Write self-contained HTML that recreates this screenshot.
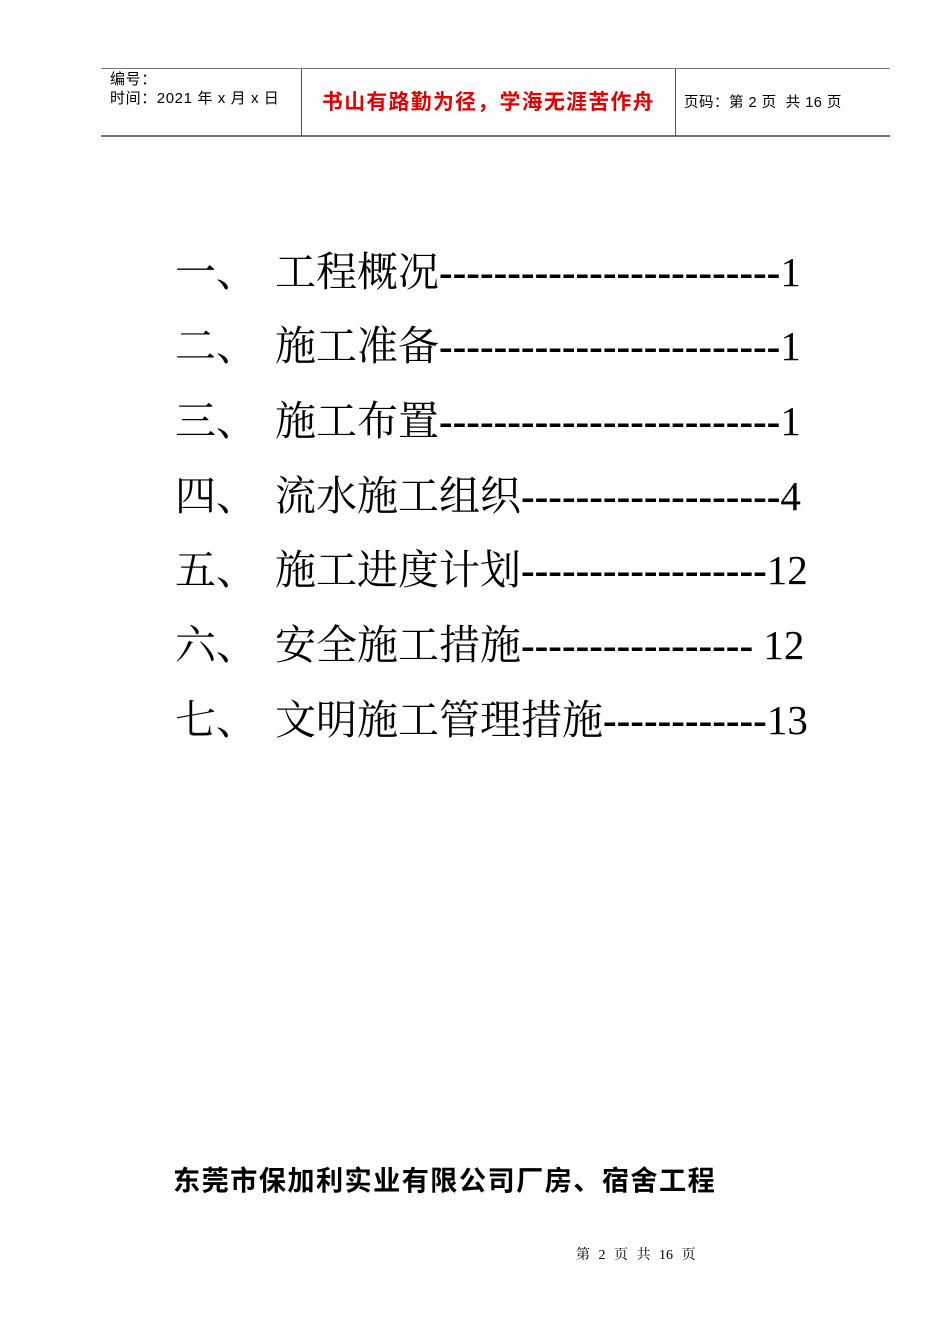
<!DOCTYPE html>
<html><head><meta charset="utf-8"><style>
body{margin:0;background:#fff;}
.pg{position:relative;width:950px;height:1344px;overflow:hidden;background:#fff;}
.hl{position:absolute;left:101px;width:789px;height:1px;background:#777;}
.vl{position:absolute;top:69px;height:67px;width:1px;background:#555;}
.t{position:absolute;white-space:pre;}
.toc{position:absolute;left:175px;white-space:pre;font-size:41px;line-height:50px;font-family:"Liberation Serif","Noto Serif CJK SC",serif;color:#000;}
.toc .n{display:inline-block;width:100px;}
.toc .d{font-weight:bold;}
</style></head><body><div class="pg">
<div class="hl" style="top:68px"></div>
<div class="hl" style="top:135px;height:2px"></div>
<div class="vl" style="left:301px"></div>
<div class="vl" style="left:675px"></div>
<div class="t" style="left:110px;top:70px;font:15px 'Liberation Sans','Noto Sans CJK SC',sans-serif;line-height:19px;letter-spacing:0.6px">编号：<br>时间：2021 年 x 月 x 日</div>
<div class="t" style="left:322px;top:89px;font:bold 20.8px 'Liberation Sans','Noto Sans CJK SC',sans-serif;color:#e00000;line-height:28px;letter-spacing:1.4px">书山有路勤为径，学海无涯苦作舟</div>
<div class="t" style="left:684px;top:93px;font:14.5px 'Liberation Sans','Noto Sans CJK SC',sans-serif;line-height:20px;letter-spacing:0.5px">页码：第 2 页  共 16 页</div>

<div class="toc" style="top:247px"><span class="n">一、</span>工程概况<span class="d">-------------------------</span>1</div>
<div class="toc" style="top:321px"><span class="n">二、</span>施工准备<span class="d">-------------------------</span>1</div>
<div class="toc" style="top:396px"><span class="n">三、</span>施工布置<span class="d">-------------------------</span>1</div>
<div class="toc" style="top:471px"><span class="n">四、</span>流水施工组织<span class="d">-------------------</span>4</div>
<div class="toc" style="top:545px"><span class="n">五、</span>施工进度计划<span class="d">------------------</span>12</div>
<div class="toc" style="top:620px"><span class="n">六、</span>安全施工措施<span class="d">-----------------</span> 12</div>
<div class="toc" style="top:695px"><span class="n">七、</span>文明施工管理措施<span class="d">------------</span>13</div>

<div class="t" style="left:173px;top:1163px;font:bold 27.2px 'Liberation Sans','Noto Sans CJK SC',sans-serif;line-height:36px;letter-spacing:1.4px">东莞市保加利实业有限公司厂房、宿舍工程</div>
<div class="t" style="left:576px;top:1247px;font:14px 'Liberation Serif','Noto Serif CJK SC',serif;line-height:18px;word-spacing:5px">第 2 页 共 16 页</div>
</div></body></html>
